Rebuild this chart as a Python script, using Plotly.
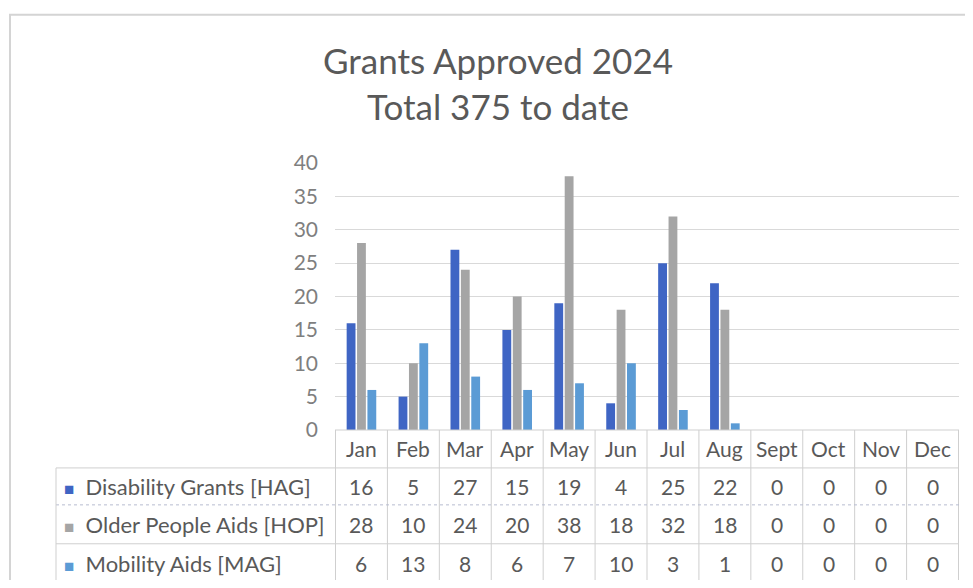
import plotly.graph_objects as go

# data ---------------------------------------------------------------------------------------------
months = ["Jan", "Feb", "Mar", "Apr", "May", "Jun", "Jul", "Aug", "Sept", "Oct", "Nov", "Dec"]
hag = [16, 5, 27, 15, 19, 4, 25, 22, 0, 0, 0, 0]
hop = [28, 10, 24, 20, 38, 18, 32, 18, 0, 0, 0, 0]
mag = [6, 13, 8, 6, 7, 10, 3, 1, 0, 0, 0, 0]
series_names = ["Disability Grants [HAG]", "Older People Aids [HOP]", "Mobility Aids [MAG]"]
series_vals = [hag, hop, mag]
ytick_vals = [0, 5, 10, 15, 20, 25, 30, 35, 40]

# style --------------------------------------------------------------------------------------------
OFF = 8                      # page body margin
W, H = 973 - 2 * OFF, 588 - 2 * OFF
COLS = ["#3F65C4", "#A5A5A5", "#5B9BD5"]
TXTCOL = "#595959"
GRDCOL = "#D9D9D9"
TBLCOL = "#CFCFCF"
FONT = "Lato"

PLOT_X0, PLOT_X1 = 335, 959  # plot area in screen pixels
PLOT_Y0, PLOT_Y1 = 162.5, 430
ROW_EDGES = [430, 468, 505, 544, 584]     # header, 3 data rows
LEG_X0 = 56

def px(p):  # screen column -> paper x
    return (p - PLOT_X0) / (PLOT_X1 - PLOT_X0)

def py(p):  # screen row -> paper y
    return (PLOT_Y1 - p) / (PLOT_Y1 - PLOT_Y0)

fig = go.Figure()

# bars ---------------------------------------------------------------------------------------------
for name, vals, col in zip(series_names, series_vals, COLS):
    fig.add_trace(go.Bar(x=months, y=vals, name=name, marker=dict(color=col, line_width=0)))

# data table ---------------------------------------------------------------------------------------
line = dict(color=TBLCOL, width=1)
n = len(months)
for i in range(n + 1):  # vertical column borders
    fig.add_shape(type="line", xref="x", yref="paper",
                  x0=i - 0.5, x1=i - 0.5, y0=py(ROW_EDGES[0]), y1=py(ROW_EDGES[-1]), line=line)
for k, r in enumerate(ROW_EDGES):  # horizontal row borders (first data border is dotted)
    fig.add_shape(type="line", xref="paper", yref="paper",
                  x0=px(PLOT_X0 if k == 0 else LEG_X0), x1=px(PLOT_X1), y0=py(r), y1=py(r),
                  line=dict(color="#B8BCD0", width=1, dash="dot") if k == 2 else line)
fig.add_shape(type="line", xref="paper", yref="paper",  # legend cell left edge
              x0=px(LEG_X0), x1=px(LEG_X0), y0=py(ROW_EDGES[1]), y1=py(ROW_EDGES[-1]), line=line)

TBL_FS = 21
for m in months:  # header labels
    fig.add_annotation(text=m, x=m, xref="x", y=py((ROW_EDGES[0] + ROW_EDGES[1]) / 2), yref="paper",
                       showarrow=False, xanchor="center", yanchor="middle",
                       font=dict(size=TBL_FS, color=TXTCOL))
for k, (name, vals, col) in enumerate(zip(series_names, series_vals, COLS)):
    yc = py((ROW_EDGES[k + 1] + ROW_EDGES[k + 2]) / 2)
    fig.add_annotation(text=f"<span style='color:{col};font-size:17px'>■</span>&nbsp; {name}",
                       x=px(LEG_X0 + 6), xref="paper", y=yc, yref="paper",
                       showarrow=False, xanchor="left", yanchor="middle",
                       font=dict(size=22, color=TXTCOL))
    for m, v in zip(months, vals):
        fig.add_annotation(text=str(v), x=m, xref="x", y=yc, yref="paper",
                           showarrow=False, xanchor="center", yanchor="middle",
                           font=dict(size=TBL_FS, color=TXTCOL))

# chart frame
fig.add_shape(type="rect", xref="paper", yref="paper", layer="below",
              x0=px(10), x1=px(990), y0=py(14), y1=py(610),
              line=dict(color="#D4D4D4", width=2))

# layout -------------------------------------------------------------------------------------------
fig.update_layout(
    width=W, height=H,
    margin=dict(l=PLOT_X0 - OFF, r=973 - PLOT_X1 - OFF, t=PLOT_Y0 - OFF, b=H - (PLOT_Y1 - OFF)),
    paper_bgcolor="white", plot_bgcolor="white",
    font=dict(family=FONT, size=16, color=TXTCOL),
    title=dict(text="Grants Approved 2024<br>Total 375 to date",
               x=(498 - OFF) / W, xanchor="center", y=1 - (74 - OFF) / H, yanchor="top",
               font=dict(size=35, color=TXTCOL, family=FONT), automargin=False),
    showlegend=False,
    barmode="group", bargap=0.4, bargroupgap=0.15,
)
fig.update_xaxes(showticklabels=False, showgrid=False, automargin=False,
                 showline=False, zeroline=False, fixedrange=True)
fig.update_yaxes(range=[0, 40], tickvals=ytick_vals, automargin=False,
                 showgrid=True, gridcolor=GRDCOL, gridwidth=1, zeroline=False, showline=False,
                 ticks="", ticklabelstandoff=16, tickfont=dict(size=21, color="#7F7F7F"))

fig.write_html("out.html")
